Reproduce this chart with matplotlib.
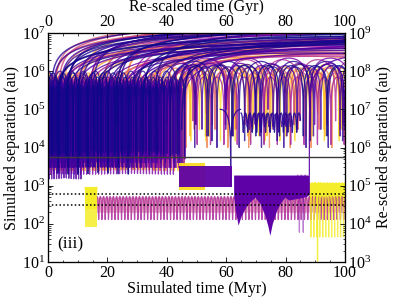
import numpy as np
import matplotlib
matplotlib.use("Agg")
import matplotlib.pyplot as plt
from matplotlib.ticker import MultipleLocator, LogLocator, NullFormatter

plt.rcParams["font.family"] = "serif"
plt.rcParams["font.serif"] = ["Liberation Serif", "DejaVu Serif"]
plt.rcParams["mathtext.fontset"] = "stix"

# Kepler scaling for the tight inner phase: period (Myr) at semi-major axis A_REF (au)
P_REF = 1.0
A_REF = 2.0e5
T_MAX = 100.0

# wide-binary trajectories: bound inner phase until traj_switch (Myr), then outer orbit
traj_switch = [2, 3, 4, 5, 6, 8, 10, 11, 13, 15, 17, 19, 21, 23, 25, 26, 28, 30, 31, 33,
               34, 35, 36, 37, 38, 39, 40, 41, 42, 42, 43, 43, 44, 44, 44, 45, 45, 45, 45, 45]
traj_phase = [0.5, 0.3, 0.7, 0.45, 0.6, 0.2, 0.8, 0.5, 0.35, 0.65, 0.55, 0.25, 0.75, 0.4,
              0.6, 0.15, 0.85, 0.5, 0.3, 0.7, 0.45, 0.6, 0.2, 0.9, 0.55, 0.35, 0.65, 0.5,
              0.25, 0.75, 0.4, 0.6, 0.3, 0.8, 0.5, 0.2, 0.7, 0.45, 0.55, 0.35]
traj_apo_in = [3e5, 4e5, 3.5e5, 5e5, 3e5, 4.5e5, 6e5, 3.5e5, 5e5, 4e5, 8e5, 3.5e5, 6e5, 4e5,
               5e5, 9e5, 3e5, 6e5, 4.5e5, 7e5, 5e5, 4e5, 8e5, 3.5e5, 6e5, 4.5e5, 5e5, 1e6,
               4e5, 7e5, 3e5, 5.5e5, 6e5, 4e5, 9e5, 5e5, 3.5e5, 7e5, 4.5e5, 6e5]
traj_peri_in = [8e3, 6e3, 5e3, 4e3, 7e3, 3e3, 5e3, 1.5e3, 4e3, 6e3, 3.5e3, 1e4, 4e3, 3e3,
                5e3, 2e3, 6e3, 4.5e3, 3e3, 5e3, 6e3, 4e3, 3e3, 8e3, 2.5e3, 5e3, 3.5e3, 6e3,
                2e3, 4e3, 5e3, 3e3, 5e3, 7e3, 2.5e3, 4e3, 3e3, 6e3, 2.5e3, 5e3]
traj_apo_out = [3e7, 1.2e7, 8e6, 2e7, 6e6, 1e7, 2.5e7, 5e6, 1.5e7, 7e6, 1.8e7, 4e6, 1.1e7, 3e6,
                2e7, 6e6, 1.3e7, 2.5e6, 9e6, 4e6, 1.5e6, 1.4e6, 2e6, 8e6, 1.2e6, 1.6e6, 1.1e6, 1.3e6,
                5e6, 1.2e6, 8e5, 1.5e6, 9e5, 1.8e6, 1.3e6, 3e6, 7e5, 1.4e6, 1e6, 2.2e6]
traj_peri_out = [3e4, 4e4, 3e4, 5e4, 2e4, 3e4, 8e4, 2e4, 5e4, 3e4, 1e5, 2e4, 6e4, 1.5e4,
                 8e4, 4e4, 3e4, 2e4, 5e4, 3e4, 2e4, 3e4, 5e4, 2e4, 1e4, 4e4, 2e4, 1e4,
                 6e4, 3e4, 1.5e4, 2e4, 4e4, 1.5e4, 8e4, 5e4, 1.2e4, 2e4, 3e4, 1e5]
traj_period_out = [480, 260, 300, 380, 240, 230, 420, 220, 290, 270, 330, 170, 240, 130,
                   360, 230, 260, 100, 300, 150, 9, 8, 12, 280, 7, 10, 6.5, 7.5,
                   200, 7, 5, 9, 5.5, 11, 7.5, 120, 4.5, 8, 6, 14]
traj_color = [0.55, 0.05, 0.1, 0.7, 0.02, 0.35, 0.8, 0.15, 0.6, 0.05, 0.9, 0.2, 0.45, 0.1,
              0.75, 0.0, 0.3, 0.65, 0.08, 0.5, 0.95, 0.12, 0.4, 0.02, 0.7, 0.18, 0.85, 0.06,
              0.25, 0.6, 0.92, 0.1, 0.5, 0.04, 0.78, 0.15, 0.35, 0.0, 0.88, 0.22]

# further escapers leaving the cloud: pericentre passage (Myr), apocentre, pericentre (au), period (Myr)
esc_start = [1, 2, 3, 4, 5, 6, 7, 9, 10, 12, 14, 16, 18, 20, 22, 24, 27, 29, 32, 35,
             38, 40, 42, 44, 1.5, 2.5, 3.5, 4.5, 6.5, 8, 11, 13, 15, 17, 19, 21, 23, 25,
             26, 28, 30, 31, 33, 36, 39, 41, 43, 45]
esc_apo = [2.2e7, 1.6e7, 9e6, 1.4e7, 7e6, 1.1e7, 2e7, 6e6, 1.3e7, 8e6, 1.7e7, 5e6, 1.2e7,
           9e6, 4e6, 1.5e7, 7e6, 3.5e6, 1e7, 6e6, 2.5e6, 8e6, 3e6, 5e6, 1.3e7, 9e6, 2.5e7,
           6e6, 1.5e7, 8e6, 1.1e7, 4.5e6, 1.9e7, 7e6, 1e7, 3e6, 1.4e7, 5.5e6, 2.2e7, 8e6,
           1.2e7, 4e6, 6.5e6, 1.6e7, 3.5e6, 9e6, 2.8e6, 7.5e6]
esc_peri = [2e4, 3e4, 1.5e4, 4e4, 2e4, 5e4, 3e4, 1.5e4, 2.5e4, 4e4, 6e4, 2e4, 3e4, 5e4,
            1.5e4, 4e4, 2e4, 3e4, 6e4, 2.5e4, 1.5e4, 4e4, 2e4, 3e4, 3e4, 2e4, 5e4, 1.5e4,
            4e4, 2.5e4, 6e4, 2e4, 3e4, 1.5e4, 5e4, 2e4, 4e4, 3e4, 8e4, 2e4, 3e4, 1.5e4,
            5e4, 4e4, 2e4, 6e4, 1.5e4, 3e4]
esc_period = [360, 280, 300, 250, 260, 220, 340, 240, 230, 300, 290, 200, 220, 320, 170,
              260, 280, 140, 200, 240, 110, 300, 120, 200, 230, 330, 400, 240, 260, 300,
              210, 180, 320, 270, 210, 120, 250, 220, 380, 300, 220, 160, 260, 280, 140,
              320, 115, 290]
esc_color = [0.05, 0.6, 0.0, 0.1, 0.7, 0.03, 0.45, 0.15, 0.08, 0.8, 0.2, 0.02, 0.55, 0.1,
             0.65, 0.06, 0.3, 0.12, 0.0, 0.75, 0.4, 0.04, 0.85, 0.18, 0.1, 0.02, 0.5, 0.2,
             0.0, 0.68, 0.08, 0.35, 0.04, 0.82, 0.14, 0.58, 0.0, 0.25, 0.72, 0.06, 0.4, 0.1,
             0.9, 0.03, 0.62, 0.16, 0.48, 0.01]

# tight orbits resolved as lines: start, end (Myr), apocentre, pericentre (au), period (Myr)
seg_t0 = [16.5, 16.5, 12.5, 88.0, 89.9, 65.0, 66.0, 84.0, 58.0, 88.0]
seg_t1 = [100.0, 100.0, 16.5, 100.0, 91.6, 85.0, 82.0, 87.0, 65.0, 100.0]
seg_apo = [520, 480, 900, 1200, 1200, 8e4, 7.5e4, 1.9e3, 1e5, 3e6]
seg_peri = [130, 200, 85, 45, 10, 2.5e4, 3.5e4, 60, 900, 1.9e3]
seg_period = [1.1, 0.55, 0.5, 1.0, 1.7, 1.5, 1.45, 1.3, 7.0, 60.0]
seg_phase = [0.5, 0.5, 0.5, 0.5, 0.5, 0.5, 0.3, 0.5, 0.5, 0.0]
seg_color = [0.36, 0.45, 0.97, 0.97, 0.97, 0.03, 0.08, 0.25, 0.05, 0.17]
seg_alpha = [0.8, 0.4, 0.85, 0.8, 0.9, 0.9, 0.8, 0.5, 0.9, 0.9]

# unresolved fast oscillations, drawn as filled bands
band_t0 = [12.5, 44.0, 44.0, 88.0]
band_t1 = [16.5, 53.0, 62.0, 100.0]
band_lo = [250, 780, 900, 300]
band_hi = [950, 3900, 3300, 1200]
band_color = [0.97, 0.93, 0.17, 0.97]

# perturbed inner binary after 62.5 Myr: lower envelope of its separation
kozai_t = [62.5, 63.0, 64.0, 65.0, 66.5, 68.0, 69.7, 71.5, 73.0, 74.0, 74.7, 75.5, 77.0,
           78.5, 79.8, 81.0, 83.0, 85.0, 87.0, 88.0]
kozai_lo = [600, 250, 92, 160, 270, 380, 500, 330, 170, 90, 50, 100, 230, 380, 500, 420,
            450, 480, 520, 600]
kozai_hi = 1.9e3
kozai_color = 0.17

sep_solid = 5.5e3
sep_dotted = [600, 320]

cmap = plt.get_cmap("plasma")


def kepler_track(t0, apo, peri, period, e_from, e_to, pts_per_orbit=90):
    a = 0.5 * (apo + peri)
    ecc = (apo - peri) / (apo + peri)
    n = max(int(pts_per_orbit * (e_to - e_from) / (2 * np.pi)), 30)
    E = np.linspace(e_from, e_to, n)
    M = E - ecc * np.sin(E)
    m0 = e_from - ecc * np.sin(e_from)
    t = t0 + (M - m0) / (2 * np.pi) * period
    r = a * (1 - ecc * np.cos(E))
    return t, r


def kepler_period(apo, peri):
    return P_REF * (0.5 * (apo + peri) / A_REF) ** 1.5


def outer_track(t_start, apo, peri, period):
    ecc = (apo - peri) / (apo + peri)
    m_need = 2 * np.pi * (T_MAX - t_start) / period
    t, r = kepler_track(t_start, apo, peri, period, 0.0, m_need + ecc + 0.05, 400)
    keep = t <= T_MAX + 1
    return t[keep], r[keep]


def trajectory(i):
    apo, peri = traj_apo_in[i], traj_peri_in[i]
    p_in = kepler_period(apo, peri)
    ecc = (apo - peri) / (apo + peri)
    e0 = 2 * np.pi * traj_phase[i]
    m0 = e0 - ecc * np.sin(e0)
    k = np.ceil(m0 / (2 * np.pi) + traj_switch[i] / p_in)
    t1, r1 = kepler_track(0.0, apo, peri, p_in, e0, 2 * np.pi * k)
    t2, r2 = outer_track(t1[-1], traj_apo_out[i], traj_peri_out[i], traj_period_out[i])
    return np.concatenate([t1, t2]), np.concatenate([r1, r2])


fig = plt.figure(figsize=(4.07, 3.05), dpi=100)
ax = fig.add_axes([48 / 407, 43 / 305, 297 / 407, 229 / 305])
ax.set_yscale("log")

tracks = []
for i in range(len(traj_switch)):
    t, r = trajectory(i)
    tracks.append((traj_color[i], 0.9, t, r))
for j in range(len(esc_start)):
    t, r = outer_track(esc_start[j], esc_apo[j], esc_peri[j], esc_period[j])
    tracks.append((esc_color[j], 1.1, t, r))

# light colours underneath, dark ones on top
for c, lw, t, r in sorted(tracks, key=lambda item: -item[0]):
    ax.plot(t, r, color=cmap(c), lw=lw, alpha=0.8, zorder=2)

for j in range(len(band_t0)):
    ax.fill_between([band_t0[j], band_t1[j]], band_lo[j], band_hi[j],
                    color=cmap(band_color[j]), lw=0, alpha=0.95,
                    zorder=3 if band_color[j] > 0.5 else 5)

for j in range(len(seg_t0)):
    ecc = (seg_apo[j] - seg_peri[j]) / (seg_apo[j] + seg_peri[j])
    e0 = 2 * np.pi * seg_phase[j]
    span = 2 * np.pi * (seg_t1[j] - seg_t0[j]) / seg_period[j]
    t, r = kepler_track(seg_t0[j], seg_apo[j], seg_peri[j], seg_period[j], e0, e0 + span + ecc, 60)
    keep = t <= seg_t1[j]
    ax.plot(t[keep], r[keep], color=cmap(seg_color[j]), lw=0.9, alpha=seg_alpha[j], zorder=4)

ax.fill_between(kozai_t, kozai_lo, kozai_hi, color=cmap(kozai_color), lw=0, zorder=5)

ax.axhline(sep_solid, color="#3a3a3a", lw=1.0, zorder=6)
for y in sep_dotted:
    ax.axhline(y, color="black", lw=1.1, ls=(0, (1, 1.5)), zorder=6)

ax.text(0.03, 0.04, "(iii)", transform=ax.transAxes, fontsize=12.5, ha="left", va="bottom", zorder=7)

ax.set_xlim(0, 100)
ax.set_ylim(10, 1e7)
ax.xaxis.set_major_locator(MultipleLocator(20))
ax.xaxis.set_minor_locator(MultipleLocator(5))
ax.yaxis.set_major_locator(LogLocator(base=10, numticks=10))
ax.yaxis.set_minor_locator(LogLocator(base=10, subs=np.arange(2, 10), numticks=10))
ax.yaxis.set_minor_formatter(NullFormatter())
ax.set_xlabel("Simulated time (Myr)", fontsize=11.5, labelpad=0)
ax.set_ylabel("Simulated separation (au)", fontsize=11.5, labelpad=1)

ax_top = ax.twiny()
ax_top.set_xlim(0, 100)
ax_top.xaxis.set_major_locator(MultipleLocator(20))
ax_top.xaxis.set_minor_locator(MultipleLocator(5))
ax_top.set_xlabel("Re-scaled time (Gyr)", fontsize=11.5, labelpad=2)

ax_right = ax.twinx()
ax_right.set_yscale("log")
ax_right.set_ylim(1e3, 1e9)
ax_right.yaxis.set_major_locator(LogLocator(base=10, numticks=10))
ax_right.yaxis.set_minor_locator(LogLocator(base=10, subs=np.arange(2, 10), numticks=10))
ax_right.yaxis.set_minor_formatter(NullFormatter())
ax_right.set_ylabel("Re-scaled separation (au)", fontsize=11.5, labelpad=3)

for a in (ax, ax_top, ax_right):
    a.tick_params(which="both", direction="in", labelsize=11.5, pad=2)
    a.tick_params(which="major", length=3.5, width=0.6)
    a.tick_params(which="minor", length=1.8, width=0.5)
    for s in a.spines.values():
        s.set_linewidth(0.8)

fig.savefig("out.png", dpi=100)
